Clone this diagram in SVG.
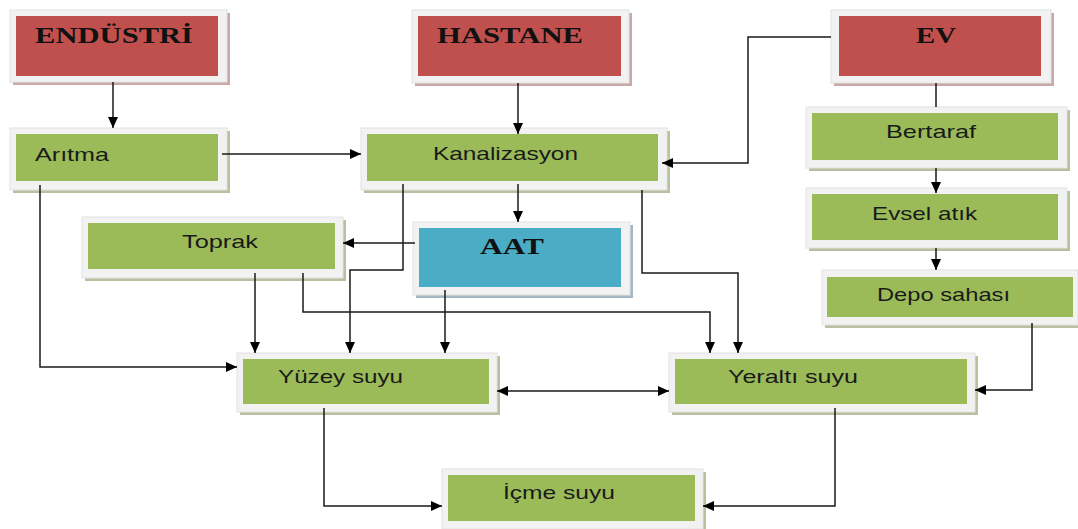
<svg xmlns="http://www.w3.org/2000/svg" width="1078" height="529" viewBox="0 0 1078 529">
<style>
.frame{fill:#f2f2f2;stroke:#e2e2e2;stroke-width:1}
.sh-r{fill:#c9a8a8}
.sh-g{fill:#b7c19f}
.sh-b{fill:#a3b8c2}
.red{fill:#c0504d}
.green{fill:#9bbb59}
.blue{fill:#4bacc6}
.t-serif{font-family:"Liberation Serif","Times New Roman",serif;font-weight:bold;font-size:24px;fill:#111}
.t-sans{font-family:"Liberation Sans",Arial,sans-serif;font-size:19px;fill:#1a1a1a}
.conn path{fill:none;stroke:#1a1a1a;stroke-width:1.5}
</style>
<defs>
<marker id="arr" markerUnits="userSpaceOnUse" markerWidth="12" markerHeight="10" refX="11" refY="5" orient="auto-start-reverse">
<path d="M0,0 L11,5 L0,10 Z" fill="#000"/>
</marker>
</defs>
<rect width="1078" height="529" fill="#fff"/>

<g id="endustri">
<rect class="sh-r" x="13" y="13" width="217" height="72"/>
<rect class="frame" x="10" y="10" width="217" height="72"/>
<rect class="red" x="16" y="16" width="202" height="60"/>
<text class="t-serif" x="35" y="43" textLength="158" lengthAdjust="spacingAndGlyphs">ENDÜSTRİ</text>
</g>
<g id="hastane">
<rect class="sh-r" x="415" y="13" width="217" height="73"/>
<rect class="frame" x="412" y="10" width="217" height="73"/>
<rect class="red" x="418" y="16" width="203" height="60"/>
<text class="t-serif" x="437" y="43" textLength="146" lengthAdjust="spacingAndGlyphs">HASTANE</text>
</g>
<g id="ev">
<rect class="sh-r" x="834" y="13" width="220" height="73"/>
<rect class="frame" x="831" y="10" width="220" height="73"/>
<rect class="red" x="839" y="16" width="202" height="60"/>
<text class="t-serif" x="916" y="43" textLength="40" lengthAdjust="spacingAndGlyphs">EV</text>
</g>

<g id="aritma">
<rect class="sh-g" x="13" y="131" width="217" height="62"/>
<rect class="frame" x="10" y="128" width="217" height="62"/>
<rect class="green" x="16" y="134" width="202" height="47"/>
<text class="t-sans" x="35" y="161" textLength="74" lengthAdjust="spacingAndGlyphs">Arıtma</text>
</g>
<g id="kanalizasyon">
<rect class="sh-g" x="364" y="131" width="306" height="62"/>
<rect class="frame" x="361" y="128" width="306" height="62"/>
<rect class="green" x="367" y="134" width="291" height="47"/>
<text class="t-sans" x="433" y="160" textLength="145" lengthAdjust="spacingAndGlyphs">Kanalizasyon</text>
</g>
<g id="bertaraf">
<rect class="sh-g" x="809" y="110" width="261" height="61"/>
<rect class="frame" x="806" y="107" width="261" height="61"/>
<rect class="green" x="812" y="113" width="246" height="47"/>
<text class="t-sans" x="886" y="138" textLength="90" lengthAdjust="spacingAndGlyphs">Bertaraf</text>
</g>
<g id="evsel">
<rect class="sh-g" x="809" y="191" width="261" height="60"/>
<rect class="frame" x="806" y="188" width="261" height="60"/>
<rect class="green" x="812" y="194" width="246" height="46"/>
<text class="t-sans" x="872" y="220" textLength="105" lengthAdjust="spacingAndGlyphs">Evsel atık</text>
</g>
<g id="depo">
<rect class="sh-g" x="825" y="273" width="253" height="55"/>
<rect class="frame" x="822" y="270" width="256" height="55"/>
<rect class="green" x="827" y="277" width="246" height="40"/>
<text class="t-sans" x="877" y="301" textLength="133" lengthAdjust="spacingAndGlyphs">Depo sahası</text>
</g>
<g id="toprak">
<rect class="sh-g" x="85" y="220" width="261" height="61"/>
<rect class="frame" x="82" y="217" width="261" height="61"/>
<rect class="green" x="88" y="223" width="247" height="46"/>
<text class="t-sans" x="182" y="248" textLength="76" lengthAdjust="spacingAndGlyphs">Toprak</text>
</g>
<g id="aat">
<rect class="sh-b" x="416" y="225" width="217" height="73"/>
<rect class="frame" x="413" y="222" width="217" height="73"/>
<rect class="blue" x="419" y="228" width="202" height="59"/>
<text class="t-serif" x="480" y="254" textLength="64" lengthAdjust="spacingAndGlyphs">AAT</text>
</g>
<g id="yuzey">
<rect class="sh-g" x="240" y="356" width="260" height="59"/>
<rect class="frame" x="237" y="353" width="260" height="59"/>
<rect class="green" x="243" y="359" width="246" height="45"/>
<text class="t-sans" x="278" y="383" textLength="125" lengthAdjust="spacingAndGlyphs">Yüzey suyu</text>
</g>
<g id="yeralti">
<rect class="sh-g" x="672" y="356" width="306" height="59"/>
<rect class="frame" x="669" y="353" width="306" height="59"/>
<rect class="green" x="675" y="359" width="292" height="45"/>
<text class="t-sans" x="728" y="383" textLength="130" lengthAdjust="spacingAndGlyphs">Yeraltı suyu</text>
</g>
<g id="icme">
<rect class="sh-g" x="445" y="472" width="261" height="57"/>
<rect class="frame" x="442" y="469" width="261" height="60"/>
<rect class="green" x="448" y="475" width="247" height="46"/>
<text class="t-sans" x="503" y="499" textLength="112" lengthAdjust="spacingAndGlyphs">İçme suyu</text>
</g>

<g id="connectors" class="conn">
<path d="M113,82 V128" marker-end="url(#arr)"/>
<path d="M518,83 V134" marker-end="url(#arr)"/>
<path d="M831,37 H748 V163 H662" marker-end="url(#arr)"/>
<path d="M936,83 V107"/>
<path d="M222,154 H361" marker-end="url(#arr)"/>
<path d="M936,168 V193" marker-end="url(#arr)"/>
<path d="M936,248 V270" marker-end="url(#arr)"/>
<path d="M1032,323 V390 H975" marker-end="url(#arr)"/>
<path d="M518,184 V222" marker-end="url(#arr)"/>
<path d="M415,243 H343" marker-end="url(#arr)"/>
<path d="M403,184 V270 H350 V353" marker-end="url(#arr)"/>
<path d="M445,290 V353" marker-end="url(#arr)"/>
<path d="M255,273 V353" marker-end="url(#arr)"/>
<path d="M303,273 V312 H710 V353" marker-end="url(#arr)"/>
<path d="M642,190 V273 H738 V353" marker-end="url(#arr)"/>
<path d="M40,185 V367 H237" marker-end="url(#arr)"/>
<path d="M497,391 H669" marker-start="url(#arr)" marker-end="url(#arr)"/>
<path d="M324,408 V506 H442" marker-end="url(#arr)"/>
<path d="M835,408 V506 H703" marker-end="url(#arr)"/>
</g>
</svg>
